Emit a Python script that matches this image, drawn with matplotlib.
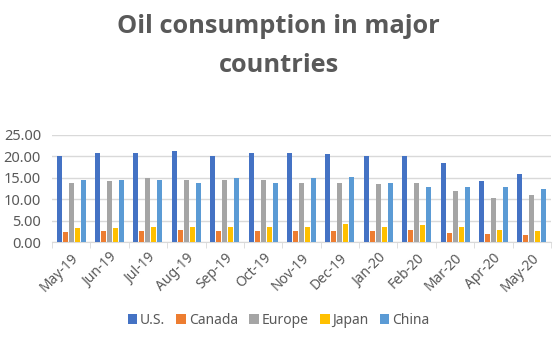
import matplotlib
matplotlib.use("Agg")
import matplotlib.pyplot as plt
import numpy as np

months = ["May-19", "Jun-19", "Jul-19", "Aug-19", "Sep-19", "Oct-19", "Nov-19",
          "Dec-19", "Jan-20", "Feb-20", "Mar-20", "Apr-20", "May-20"]
us     = [20.2, 20.7, 20.7, 21.2, 20.2, 20.9, 20.7, 20.5, 20.0, 20.0, 18.4, 14.2, 16.0]
canada = [2.25, 2.5, 2.5, 2.7, 2.5, 2.5, 2.5, 2.5, 2.5, 2.7, 2.0, 1.8, 1.55]
europe = [13.9, 14.2, 14.9, 14.4, 14.4, 14.4, 13.9, 13.7, 13.5, 13.9, 11.8, 10.2, 10.9]
japan  = [3.2, 3.2, 3.4, 3.4, 3.4, 3.4, 3.6, 4.1, 3.6, 3.9, 3.4, 2.7, 2.5]
china  = [14.55, 14.4, 14.4, 13.9, 14.9, 13.9, 14.9, 15.1, 13.7, 12.75, 12.75, 12.75, 12.3]
series_names = ["U.S.", "Canada", "Europe", "Japan", "China"]
colors = ["#4472C4", "#ED7D31", "#A5A5A5", "#FFC000", "#5B9BD5"]
yticks = [0, 5, 10, 15, 20, 25]

plt.rcParams['font.family'] = ['Noto Sans', 'DejaVu Sans']
txt = "#595959"

fig = plt.figure(figsize=(5.57, 3.37), dpi=100)
ax = fig.add_axes([52/557, 1 - 242/337, 499/557, 107/337])

x = np.arange(len(months))
step = 0.156
width = 0.13
data = [us, canada, europe, japan, china]
for i, (vals, name, c) in enumerate(zip(data, series_names, colors)):
    ax.bar(x + (i - 2) * step, vals, width=width, color=c, label=name, zorder=3)

ax.set_xlim(-0.5, len(months) - 0.5)
ax.set_ylim(0, 25)
ax.set_yticks(yticks)
ax.set_yticklabels([f"{v:.2f}" for v in yticks], color=txt, fontsize=10.5)
ax.yaxis.grid(True, color="#D9D9D9", linewidth=1, zorder=0)
ax.tick_params(axis='y', length=0, pad=8)
ax.set_xticks(x)
ax.set_xticklabels(months, rotation=45, ha='right', rotation_mode='anchor', color=txt, fontsize=10)
ax.tick_params(axis='x', length=0, pad=6)
ax.set_xticks(np.arange(-0.5, len(months), 1), minor=True)
ax.tick_params(axis='x', which='minor', length=4, color="#D9D9D9")
for s in ['top', 'right', 'left']:
    ax.spines[s].set_visible(False)
ax.spines['bottom'].set_color("#D9D9D9")

fig.text(0.5, 1 - 46/337, "Oil consumption in major\ncountries", ha='center', va='center',
         fontsize=18.3, fontweight='bold', color=txt, linespacing=1.7,
         family=['Open Sans', 'DejaVu Sans'])

handles, labels = ax.get_legend_handles_labels()
fig.legend(handles, labels, loc='center', bbox_to_anchor=(0.5, 1 - 320/337), ncol=5,
           frameon=False, fontsize=10, labelcolor=txt, handlelength=0.7, handleheight=0.7,
           handletextpad=0.2, columnspacing=0.8)

fig.savefig("out.png", dpi=100)
